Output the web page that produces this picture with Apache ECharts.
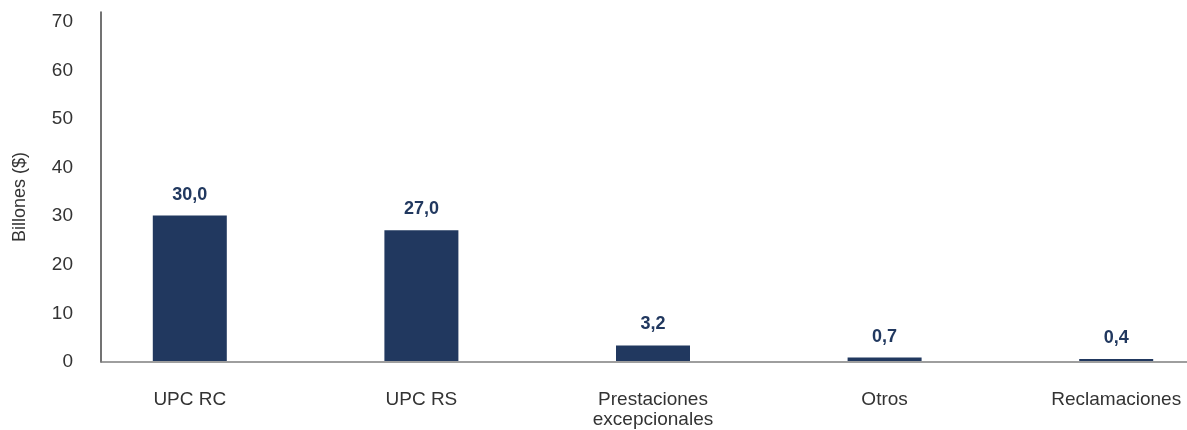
<!DOCTYPE html>
<html>
<head>
<meta charset="utf-8">
<script src="https://cdn.jsdelivr.net/npm/echarts@6/dist/echarts.min.js"></script>
<style>
  html, body { margin: 0; padding: 0; background: #fff; overflow: hidden; }
  /* the plot runs past the right edge of the window, like the cropped original */
  #chart { width: 1232px; height: 430px; }
</style>
</head>
<body>
<div id="chart"></div>
<script>
const categories = ['UPC RC', 'UPC RS', 'Prestaciones\nexcepcionales', 'Otros', 'Reclamaciones'];
const values = [30.0, 27.0, 3.2, 0.7, 0.4];
const yTicks = [0, 10, 20, 30, 40, 50, 60, 70];

const FONT = '"Liberation Sans", Arial, sans-serif';
const BAR = '#21385f';

const chart = echarts.init(document.getElementById('chart'));

const option = {
  animation: false,
  grid: [
    // axes frame (ends at the window edge)
    { left: 101, right: 45, top: 12, bottom: 68 },
    // bars
    { left: 74, right: 0, top: 12, bottom: 68 }
  ],
  xAxis: [
    {
      gridIndex: 0, type: 'value', min: 0, max: 1,
      axisLine: { show: true, lineStyle: { color: '#7f7f7f', width: 1.5 } },
      axisTick: { show: false }, axisLabel: { show: false }, splitLine: { show: false }
    },
    {
      gridIndex: 1, type: 'category', data: categories,
      axisLine: { show: false }, axisTick: { show: false },
      axisLabel: { color: '#333', fontSize: 19, fontFamily: FONT, margin: 29, lineHeight: 20, interval: 0 }
    }
  ],
  yAxis: [
    {
      gridIndex: 0, type: 'value', min: 0, max: 72, interval: 10,
      name: 'Billones ($)', nameLocation: 'middle', nameGap: 72,
      nameTextStyle: { color: '#333', fontSize: 18, fontFamily: FONT, padding: [0, 20, 0, 0] },
      axisLine: { show: true, lineStyle: { color: '#444', width: 1.5 } },
      axisTick: { show: false }, splitLine: { show: false },
      axisLabel: {
        color: '#333', fontSize: 19, fontFamily: FONT, margin: 28,
        formatter: v => (yTicks.indexOf(v) >= 0 ? String(v) : '')
      }
    },
    {
      gridIndex: 1, type: 'value', min: 0, max: 72, show: false
    }
  ],
  series: [
    {
      type: 'bar',
      xAxisIndex: 1, yAxisIndex: 1,
      data: values,
      barWidth: 74,
      itemStyle: { color: BAR },
      label: {
        show: true, position: 'top', distance: 12,
        color: '#21385f', fontSize: 18, fontWeight: 'bold', fontFamily: FONT,
        formatter: p => p.value.toFixed(1).replace('.', ',')
      }
    }
  ]
};

chart.setOption(option);
</script>
</body>
</html>
